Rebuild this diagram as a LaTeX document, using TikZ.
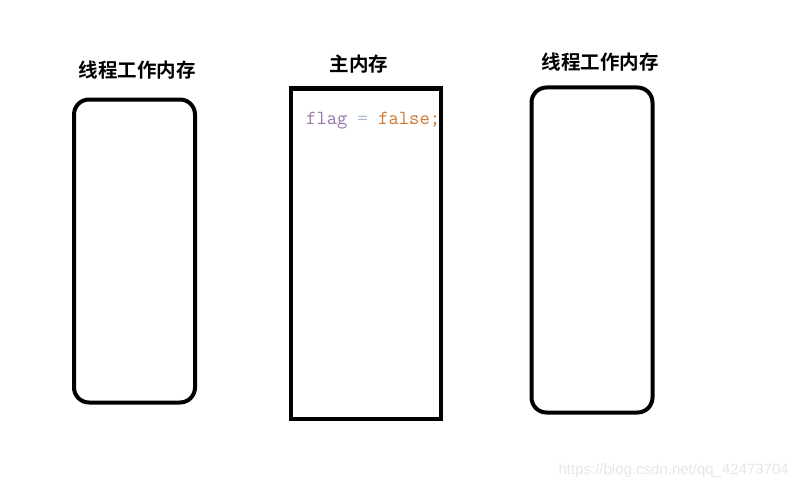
\documentclass[tikz,border=0pt]{standalone}
\usepackage{fontspec}
\newfontfamily\cjk{Noto Sans CJK SC}[BoldFont={Noto Sans CJK SC Bold}]
\setsansfont{Liberation Sans}
\definecolor{flagpurple}{HTML}{9876AA}
\definecolor{eqgray}{HTML}{A9B7C6}
\definecolor{falseorange}{HTML}{CC7832}
\definecolor{markgray}{HTML}{E6E6E6}

\begin{document}
\begin{tikzpicture}[x=1pt, y=-1pt,
	threadmem/.style={shape=rectangle, draw=black, line width=4pt, rounded corners=15pt, minimum width=121pt, minimum height=303pt, inner sep=0pt},
	mainmem/.style={shape=rectangle, draw=black, line width=4pt, minimum width=150pt, minimum height=330pt, inner sep=0pt},
	title/.style={font=\cjk\bfseries\fontsize{19.5}{22}\selectfont, inner sep=0pt}]
	
	\useasboundingbox (0,0) rectangle (798,487);
	
	\node[threadmem] (left)  at (134.5, 251)   {};
	\node[mainmem]   (main)  at (365.5, 253.5) {};
	\node[threadmem, minimum height=325pt] (right) at (592, 250) {};
	
	\node[title] (lefttitle)  at (137, 70) {线程工作内存};
	\node[title] (maintitle)  at (359, 64) {主内存};
	\node[title] (righttitle) at (600, 62) {线程工作内存};
	
	\begin{scope}
		\clip (main.north west) ++(2,2) rectangle ([xshift=-2pt, yshift=2pt]main.south east);
		\node[anchor=base west, inner sep=0pt, font=\ttfamily\fontsize{20}{22}\selectfont] (flag) at (306, 124)
			{\textcolor{flagpurple}{flag} \textcolor{eqgray}{=} \textcolor{falseorange}{false;}};
	\end{scope}
	
	\node[anchor=base east, inner sep=0pt, text=markgray, font=\sffamily\fontsize{15}{17}\selectfont] (mark) at (789, 474) {https://blog.csdn.net/qq\_42473704};

\end{tikzpicture}
\end{document}
